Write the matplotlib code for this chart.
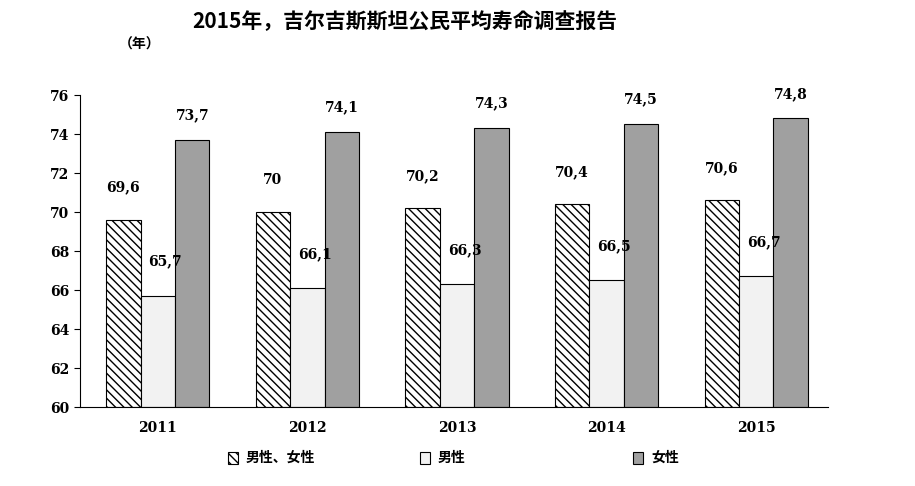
import matplotlib
matplotlib.use("Agg")
import matplotlib.pyplot as plt
import numpy as np
from matplotlib.patches import Patch

CJK = ['Noto Sans CJK SC', 'Noto Sans CJK JP', 'Noto Sans CJK TC', 'DejaVu Sans']
plt.rcParams['font.family'] = 'sans-serif'
plt.rcParams['font.sans-serif'] = CJK
plt.rcParams['hatch.linewidth'] = 1.0

years = ["2011", "2012", "2013", "2014", "2015"]
total = [69.6, 70.0, 70.2, 70.4, 70.6]
male = [65.7, 66.1, 66.3, 66.5, 66.7]
female = [73.7, 74.1, 74.3, 74.5, 74.8]
total_lbl = ["69,6", "70", "70,2", "70,4", "70,6"]
male_lbl = ["65,7", "66,1", "66,3", "66,5", "66,7"]
female_lbl = ["73,7", "74,1", "74,3", "74,5", "74,8"]

fig = plt.figure(figsize=(9.15, 4.86), dpi=100)
ax = fig.add_axes([80/915, 1-407/486, 748/915, 312/486])
x = np.arange(len(years)) + 0.02
w = 0.23
ax.bar(x - w, [v - 60 for v in total], w, bottom=60, facecolor='white', edgecolor='black', hatch='\\\\\\\\', linewidth=0.8)
ax.bar(x, [v - 60 for v in male], w, bottom=60, facecolor='#f2f2f2', edgecolor='black', linewidth=0.8)
ax.bar(x + w, [v - 60 for v in female], w, bottom=60, facecolor='#a0a0a0', edgecolor='black', linewidth=0.8)
fs = dict(fontsize=10, fontweight='bold', family='DejaVu Serif')
for i in range(len(years)):
    ax.text(x[i] - w, total[i] + 1.3, total_lbl[i], ha='center', va='bottom', **fs)
    ax.text(x[i] + 0.05, male[i] + 1.4, male_lbl[i], ha='center', va='bottom', **fs)
    ax.text(x[i] + w, female[i] + 0.9, female_lbl[i], ha='center', va='bottom', **fs)
ax.set_xlim(-0.5, 4.5)
ax.set_ylim(60, 76)
ax.set_yticks(range(60, 77, 2))
ax.set_xticks(x)
ax.set_xticklabels(years, **fs)
for t in ax.get_yticklabels():
    t.set_fontweight('bold'); t.set_family('DejaVu Serif'); t.set_fontsize(10)
for s in ['top', 'right']:
    ax.spines[s].set_visible(False)
ax.tick_params(axis='x', length=0, pad=10)
ax.tick_params(axis='y', direction='out', length=4)

handles = [Patch(facecolor='white', edgecolor='black', hatch='\\\\\\\\'),
           Patch(facecolor='#f2f2f2', edgecolor='black'),
           Patch(facecolor='#a0a0a0', edgecolor='black')]
names = ["男性、女性", "男性", "女性"]
for h, n, px in zip(handles, names, [228, 420, 633]):
    fig.patches.append(matplotlib.patches.Rectangle((px/915, 1-464/486), 10/915, 12/486,
        transform=fig.transFigure, facecolor=h.get_facecolor(), edgecolor='black',
        hatch=h.get_hatch(), linewidth=0.8))
    fig.text((px+18)/915, 1-458/486, n, fontsize=10, fontweight='bold', va='center', family=CJK)

fig.text(405/915, 1-22/486, "2015年，吉尔吉斯斯坦公民平均寿命调查报告", ha='center', va='center',
         fontsize=15, fontweight='bold', family=CJK)
fig.text(140/915, 1-45/486, "（年）", ha='center', va='center', fontsize=10, fontweight='bold', family=CJK)
fig.savefig("out.png", dpi=100)
